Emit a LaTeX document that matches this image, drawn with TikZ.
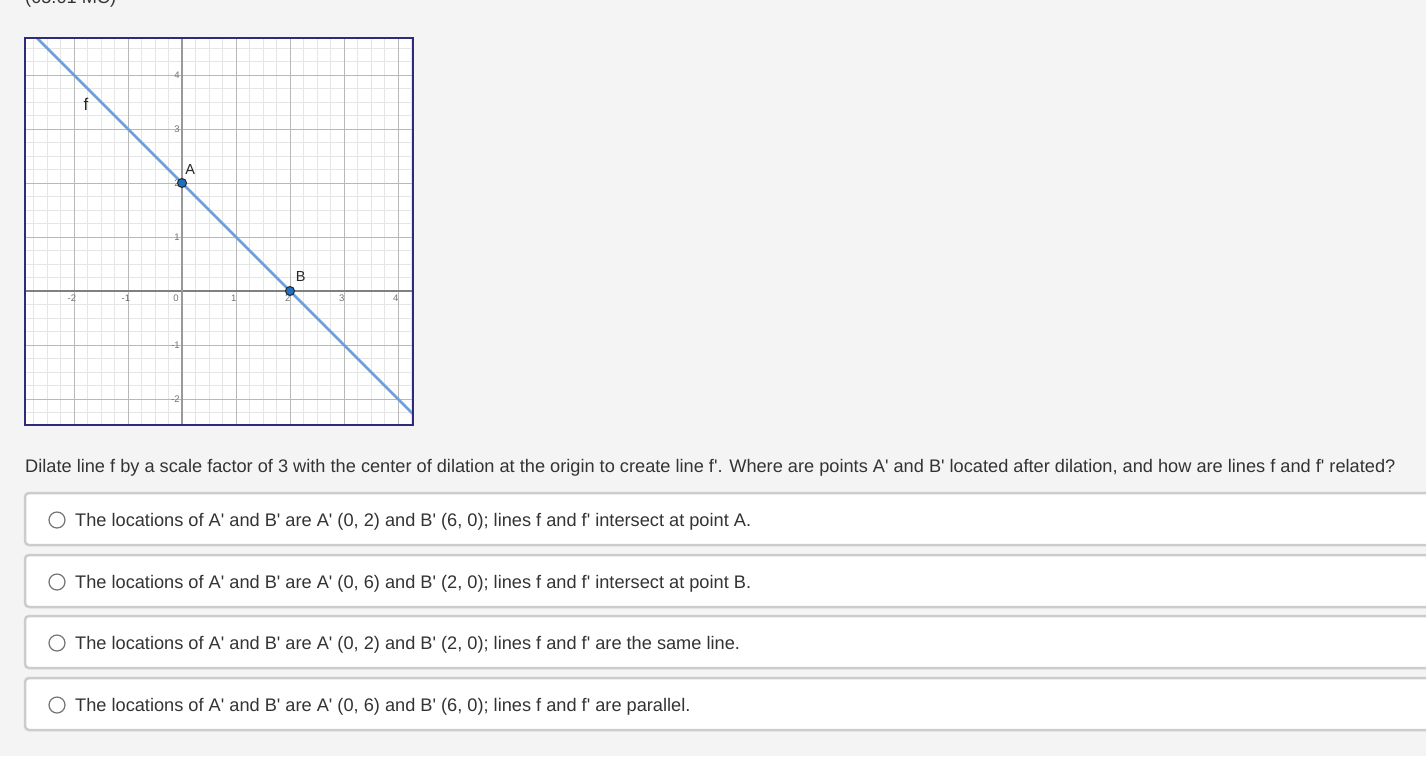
\documentclass[tikz,border=0pt]{standalone}
\usepackage{fontspec}
\setmainfont{Liberation Sans}[Ligatures=TeXOff]
\definecolor{pagebg}{HTML}{F4F4F4}
\definecolor{framenavy}{HTML}{2E2B7C}
\definecolor{linef}{HTML}{6F9FD8}
\definecolor{ptblue}{HTML}{1F6FC5}
\definecolor{txtgray}{HTML}{333333}
\definecolor{boxgray}{HTML}{CCCCCC}
\tikzset{
  minorgrid/.style={draw=black!10, line width=0.8pt},
  majorgrid/.style={draw=black!28, line width=1pt},
  ticklabel/.style={font=\fontsize{9.5}{9.5}\selectfont, text=black!55, inner sep=1pt},
  ptlabel/.style={font=\fontsize{14.5}{14.5}\selectfont, text=black!85, inner sep=0pt},
  ptdot/.style={circle, draw=black!85, fill=ptblue, line width=1pt, minimum size=9pt, inner sep=0pt},
  answerbox/.style={draw=boxgray, line width=2.5pt, fill=white, rounded corners=4pt},
  radio/.style={circle, draw=black!55, line width=1.2pt, minimum size=16pt, inner sep=0pt, fill=white},
  choice/.style={anchor=west, font=\fontsize{18.2}{18.2}\selectfont, text=txtgray, inner sep=0pt},
}
\begin{document}
\begin{tikzpicture}[x=1pt,y=-1pt]
  \useasboundingbox (0,0) rectangle (1426,756);
  \fill[pagebg] (0,0) rectangle (1426,756);
  \node[anchor=base west, font=\fontsize{18.2}{18.2}\selectfont, text=txtgray, inner sep=0pt] (code) at (25,3) {(05.01 MC)};
  % the graph, one unit = 54px
  \begin{scope}[shift={(182,291)},x=54pt,y=54pt]
    \fill[white] (-2.907,-2.481) rectangle (4.278,4.685);
    \draw[minorgrid,step=0.25] (-2.907,-2.481) grid (4.278,4.685);
    \draw[majorgrid,step=1] (-2.907,-2.481) grid (4.278,4.685);
    \draw[black!50, line width=1.2pt] (-2.907,0) -- (4.278,0);
    \draw[black!40, line width=1.1pt] (0,-2.481) -- (0,4.685);
    \foreach \x in {-2,-1,1,2,3,4} {
        \node[ticklabel] (xl\x) at (\x-0.04,-0.14) {\x};
      }
    \node[ticklabel] (xl0) at (-0.11,-0.14) {0};
    \foreach \y in {-2,-1,1,2,3,4} {
        \node[ticklabel, anchor=east] (yl\y) at (-0.02,\y) {\y};
      }
    \coordinate (ftop) at (-2.685,4.685);
    \coordinate (fbot) at (4.278,-2.278);
    \draw[linef, line width=2.5pt] (ftop) -- (fbot);
    \node[ptdot] (A) at (0,2) {};
    \node[ptdot] (B) at (2,0) {};
    \node[ptlabel] (Alab) at (0.15,2.25) {A};
    \node[ptlabel] (Blab) at (2.2,0.26) {B};
    \node[font=\fontsize{17}{17}\selectfont, text=black!85] (flab) at (-1.78,3.46) {f};
    \draw[framenavy, line width=2.2pt] (-2.907,-2.481) rectangle (4.278,4.685);
  \end{scope}
  \node[choice] (question) at (25,468) {Dilate line f by a scale factor of 3 with the center of dilation at the origin to create line f'. Where are points A' and B' located after dilation, and how are lines f and f' related?};
  \foreach \yc/\ans [count=\i] in {
      520/{The locations of A' and B' are A' (0, 2) and B' (6, 0); lines f and f' intersect at point A.},
      582/{The locations of A' and B' are A' (0, 6) and B' (2, 0); lines f and f' intersect at point B.},
      643/{The locations of A' and B' are A' (0, 2) and B' (2, 0); lines f and f' are the same line.},
      705/{The locations of A' and B' are A' (0, 6) and B' (6, 0); lines f and f' are parallel.}} {
      \draw[answerbox] (25,\yc-27) rectangle (1440,\yc+25);
      \node[radio] (radio\i) at (57,\yc) {};
      \node[choice] (choice\i) at (75,\yc+1.5) {\ans};
    }
\end{tikzpicture}
\end{document}
